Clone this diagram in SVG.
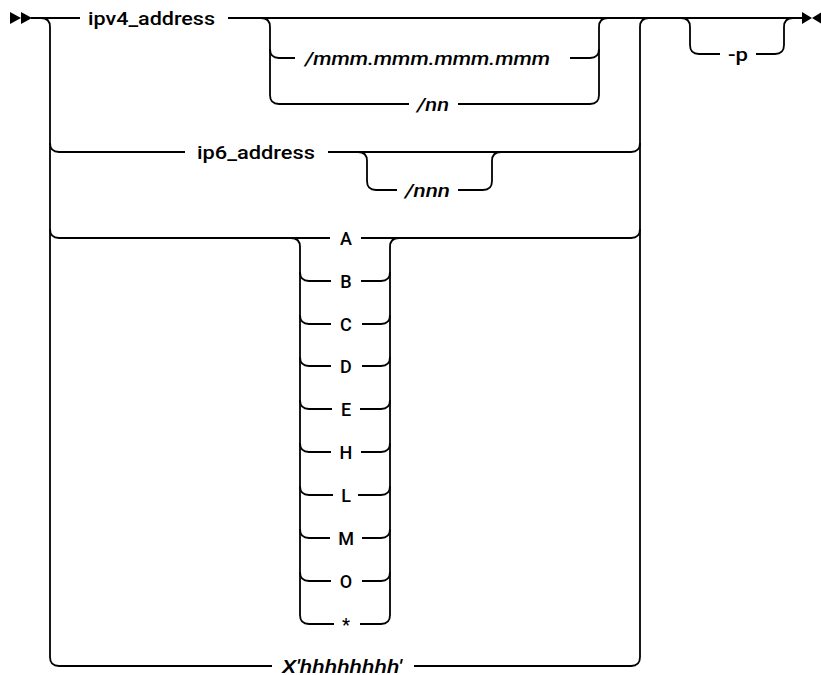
<svg xmlns="http://www.w3.org/2000/svg" width="821" height="675" viewBox="0 0 821 675">
<style>
.ln{fill:none;stroke:#000;stroke-width:1.8;stroke-linecap:butt}
.t{font-family:Roboto,"Liberation Sans",sans-serif;font-size:18px;font-weight:500;fill:#000}
.i{font-style:italic}
.m{text-anchor:middle}
</style>
<rect width="821" height="675" fill="#fff"/>
<g id="connectors" class="ln">
<polygon points="10,12 21,18 10,24" fill="#000" stroke="none"/>
<polygon points="21,12 32,18 21,24" fill="#000" stroke="none"/>
<polygon points="802,12 812,18 802,24" fill="#000" stroke="none"/>
<polygon points="822,12 812,18 822,24" fill="#000" stroke="none"/>
<path d="M31,18 H80 M228,18 H803"/>
<path d="M41,18 Q50,18 50,27 V657 Q50,666 59,666"/>
<path d="M50,143 Q50,152 59,152 M50,229 Q50,238 59,238"/>
<path d="M649,18 Q640,18 640,27 V657 Q640,666 631,666"/>
<path d="M631,152 Q640,152 640,143 M631,238 Q640,238 640,229"/>
<path d="M261,18 Q270,18 270,27 V95 Q270,104 279,104"/>
<path d="M270,49 Q270,58 279,58 H295 M570,58 H590 Q599,58 599,49"/>
<path d="M279,104 H409 M458,104 H590"/>
<path d="M608,18 Q599,18 599,27 V95 Q599,104 590,104"/>
<path d="M59,152 H185 M328,152 H631"/>
<path d="M358,152 Q367,152 367,161 V181 Q367,190 376,190 H397 M458,190 H483 Q492,190 492,181 V161 Q492,152 501,152"/>
<path d="M59,238 H330 M361,238 H631"/>
<path d="M291,238 Q300,238 300,247 V615 Q300,624 309,624"/>
<path d="M399,238 Q390,238 390,247 V615 Q390,624 381,624"/>
<path d="M300,272 Q300,281 309,281 M300,315 Q300,324 309,324 M300,357 Q300,366 309,366 M300,400 Q300,409 309,409 M300,443 Q300,452 309,452 M300,486 Q300,495 309,495 M300,529 Q300,538 309,538 M300,572 Q300,581 309,581"/>
<path d="M390,272 Q390,281 381,281 M390,315 Q390,324 381,324 M390,357 Q390,366 381,366 M390,400 Q390,409 381,409 M390,443 Q390,452 381,452 M390,486 Q390,495 381,495 M390,529 Q390,538 381,538 M390,572 Q390,581 381,581"/>
<path d="M309,281 H331 M361,281 H381"/>
<path d="M309,324 H331 M362,324 H381"/>
<path d="M309,366 H331 M362,366 H381"/>
<path d="M309,409 H332 M360,409 H381"/>
<path d="M309,452 H331 M361,452 H381"/>
<path d="M309,495 H333 M358,495 H381"/>
<path d="M309,538 H330 M362,538 H381"/>
<path d="M309,581 H331 M362,581 H381"/>
<path d="M309,624 H334 M360,624 H381"/>
<path d="M59,666 H272 M414,666 H631"/>
<path d="M681,18 Q690,18 690,27 V45 Q690,54 699,54 H720 M756,54 H775 Q784,54 784,45 V27 Q784,18 793,18"/>
</g>
<g id="n_ipv4"><text class="t" x="88" y="24.5" textLength="127" lengthAdjust="spacingAndGlyphs">ipv4_address</text></g>
<g id="n_mask"><text class="t i" x="305" y="64.5" textLength="245" lengthAdjust="spacingAndGlyphs">/mmm.mmm.mmm.mmm</text></g>
<g id="n_nn"><text class="t i" x="417" y="110.5" textLength="32" lengthAdjust="spacingAndGlyphs">/nn</text></g>
<g id="n_ip6"><text class="t" x="197" y="158.5" textLength="118" lengthAdjust="spacingAndGlyphs">ip6_address</text></g>
<g id="n_nnn"><text class="t i" x="405" y="196.5" textLength="45" lengthAdjust="spacingAndGlyphs">/nnn</text></g>
<g id="n_A"><text class="t m" x="346" y="244.5">A</text></g>
<g id="n_B"><text class="t m" x="346" y="287.5">B</text></g>
<g id="n_C"><text class="t m" x="346" y="330.5">C</text></g>
<g id="n_D"><text class="t m" x="346" y="372.5">D</text></g>
<g id="n_E"><text class="t m" x="346" y="415.5">E</text></g>
<g id="n_H"><text class="t m" x="346" y="458.5">H</text></g>
<g id="n_L"><text class="t m" x="346" y="501.5">L</text></g>
<g id="n_M"><text class="t m" x="346" y="544.5">M</text></g>
<g id="n_O"><text class="t m" x="346" y="587.5">O</text></g>
<g id="n_star"><text class="t m" x="346" y="630.5">*</text></g>
<g id="n_hex"><text class="t i" x="282" y="672.5" textLength="120" lengthAdjust="spacingAndGlyphs">X'hhhhhhhh'</text></g>
<g id="n_p"><text class="t" x="728" y="60.5" textLength="20" lengthAdjust="spacingAndGlyphs">-p</text></g>
</svg>
